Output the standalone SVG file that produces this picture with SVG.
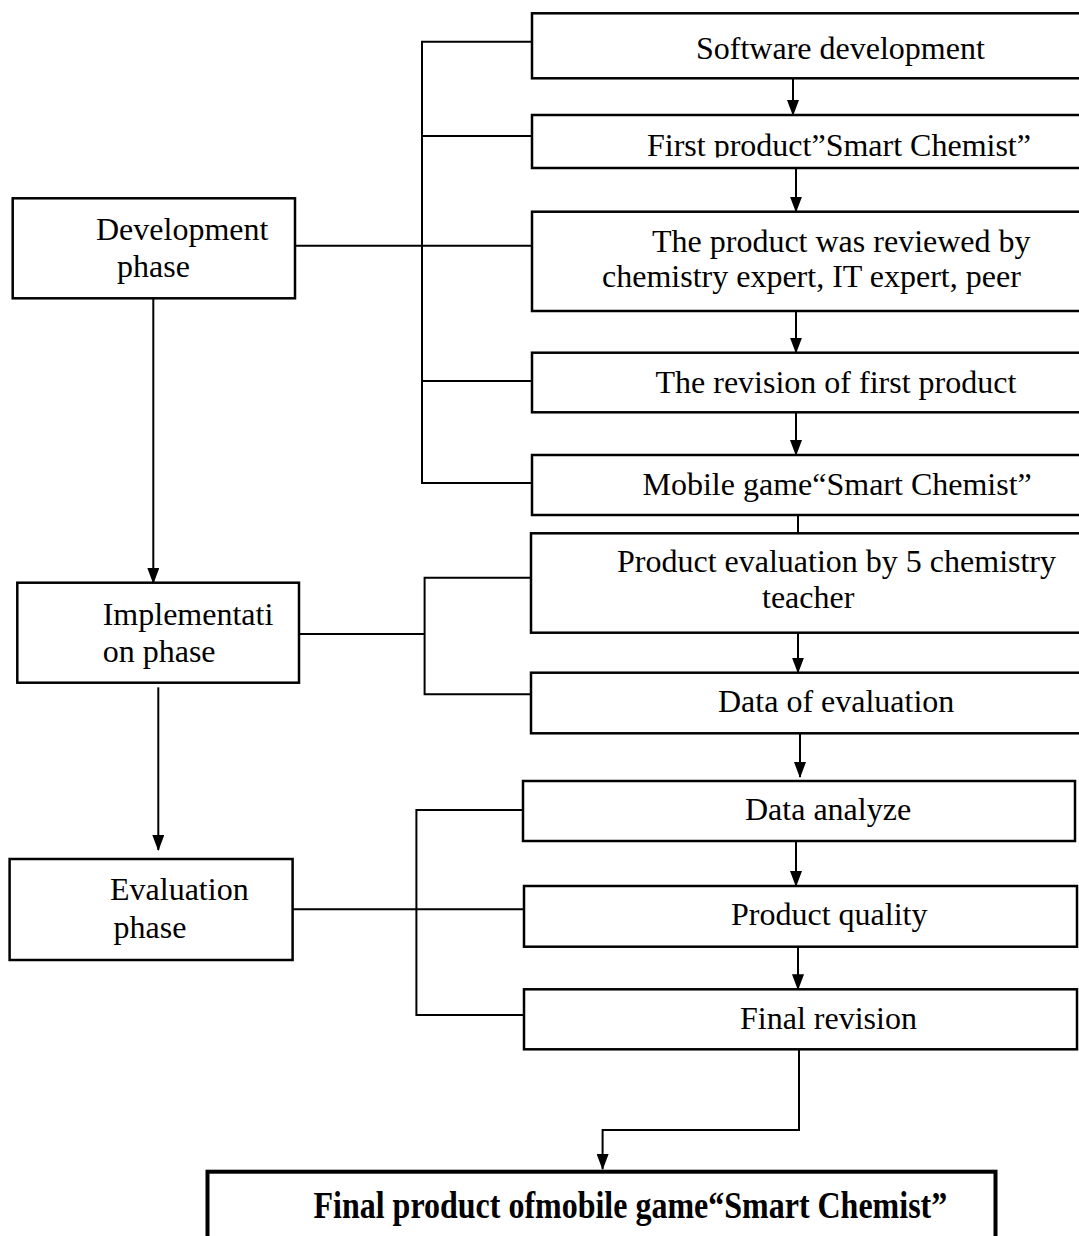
<svg xmlns="http://www.w3.org/2000/svg" width="1079" height="1236" viewBox="0 0 1079 1236">
<style>
.box{fill:#fff;stroke:#000;stroke-width:2.5}
.fbox{fill:#fff;stroke:#000;stroke-width:4}
.t{font-family:"Liberation Serif","Times New Roman",serif;font-size:32px;fill:#000}
.tb{font-family:"Liberation Serif","Times New Roman",serif;font-size:32px;font-weight:bold;fill:#000}
.c{fill:none;stroke:#000;stroke-width:2}
</style>
<defs>
<marker id="ah" viewBox="0 0 16 12" refX="15" refY="6" markerWidth="16" markerHeight="12" markerUnits="userSpaceOnUse" orient="auto">
<path d="M0,0 L16,6 L0,12 Z" fill="#000"/>
</marker>
<clipPath id="clipFirst"><rect x="532" y="115" width="550" height="42.5"/></clipPath>
</defs>
<rect width="1079" height="1236" fill="#fff"/>

<g id="connectors">
<!-- development bracket -->
<polyline class="c" points="532,41.7 422,41.7 422,483 532,483"/>
<line class="c" x1="422" y1="136" x2="532" y2="136"/>
<line class="c" x1="422" y1="381" x2="532" y2="381"/>
<line class="c" x1="295" y1="245.7" x2="532" y2="245.7"/>
<!-- implementation bracket -->
<line class="c" x1="299" y1="634" x2="424.6" y2="634"/>
<polyline class="c" points="531,577.7 424.6,577.7 424.6,694.3 531,694.3"/>
<!-- evaluation bracket -->
<line class="c" x1="292.5" y1="909.3" x2="524" y2="909.3"/>
<polyline class="c" points="523,810 416.4,810 416.4,1015 524,1015"/>
<!-- phase arrows -->
<line class="c" x1="153.3" y1="298.3" x2="153.3" y2="583" marker-end="url(#ah)"/>
<line class="c" x1="158.3" y1="687.3" x2="158.3" y2="850" marker-end="url(#ah)"/>
<!-- column arrows -->
<line class="c" x1="793" y1="78.3" x2="793" y2="115" marker-end="url(#ah)"/>
<line class="c" x1="796" y1="168" x2="796" y2="211.7" marker-end="url(#ah)"/>
<line class="c" x1="796" y1="311" x2="796" y2="352.7" marker-end="url(#ah)"/>
<line class="c" x1="796" y1="412.3" x2="796" y2="455" marker-end="url(#ah)"/>
<line class="c" x1="798" y1="515" x2="798" y2="533.3"/>
<line class="c" x1="798" y1="632.7" x2="798" y2="672.7" marker-end="url(#ah)"/>
<line class="c" x1="800" y1="733.3" x2="800" y2="777" marker-end="url(#ah)"/>
<line class="c" x1="796" y1="841" x2="796" y2="886" marker-end="url(#ah)"/>
<line class="c" x1="798" y1="946.7" x2="798" y2="989.3" marker-end="url(#ah)"/>
<polyline class="c" points="799,1049.3 799,1130 602.6,1130 602.6,1169" marker-end="url(#ah)"/>
</g>

<g id="development-phase">
<rect class="box" x="12.7" y="198.3" width="282.3" height="100"/>
<text class="t" x="96" y="240">Development</text>
<text class="t" x="117" y="276.7">phase</text>
</g>
<g id="implementation-phase">
<rect class="box" x="17.3" y="582.7" width="281.7" height="100"/>
<text class="t" x="102.7" y="625">Implementati</text>
<text class="t" x="102.7" y="661.7">on phase</text>
</g>
<g id="evaluation-phase">
<rect class="box" x="9.6" y="859" width="283" height="101"/>
<text class="t" x="110" y="900">Evaluation</text>
<text class="t" x="113.6" y="938.3">phase</text>
</g>

<g id="software-development">
<rect class="box" x="532" y="13.3" width="560" height="65"/>
<text class="t" x="696" y="59">Software development</text>
</g>
<g id="first-product">
<rect class="box" x="532" y="115" width="560" height="53"/>
<text class="t" x="647" y="156" clip-path="url(#clipFirst)">First product”Smart Chemist”</text>
</g>
<g id="product-reviewed">
<rect class="box" x="532" y="211.7" width="560" height="99.3"/>
<text class="t" x="652" y="251.5">The product was reviewed by</text>
<text class="t" x="602" y="287">chemistry expert, IT expert, peer</text>
</g>
<g id="revision-first-product">
<rect class="box" x="532" y="352.7" width="560" height="59.6"/>
<text class="t" x="655.5" y="393.3">The revision of first product</text>
</g>
<g id="mobile-game">
<rect class="box" x="532" y="455" width="560" height="60"/>
<text class="t" x="642.5" y="495">Mobile game“Smart Chemist”</text>
</g>
<g id="product-evaluation">
<rect class="box" x="531" y="533.3" width="560" height="99.4"/>
<text class="t" x="617" y="571.7">Product evaluation by 5 chemistry</text>
<text class="t" x="762" y="608.3">teacher</text>
</g>
<g id="data-of-evaluation">
<rect class="box" x="531" y="672.7" width="560" height="60.6"/>
<text class="t" x="718" y="711.7">Data of evaluation</text>
</g>
<g id="data-analyze">
<rect class="box" x="523" y="781" width="552" height="60"/>
<text class="t" x="745" y="820">Data analyze</text>
</g>
<g id="product-quality">
<rect class="box" x="524" y="886" width="553" height="60.7"/>
<text class="t" x="731" y="925">Product quality</text>
</g>
<g id="final-revision">
<rect class="box" x="524" y="989.3" width="553" height="60"/>
<text class="t" x="740" y="1029.3">Final revision</text>
</g>
<g id="final-product">
<rect class="fbox" x="207.5" y="1171.7" width="788" height="100"/>
<text class="tb" transform="translate(313.5,1218.3) scale(1,1.2)">Final product ofmobile game“Smart Chemist”</text>
</g>
</svg>
